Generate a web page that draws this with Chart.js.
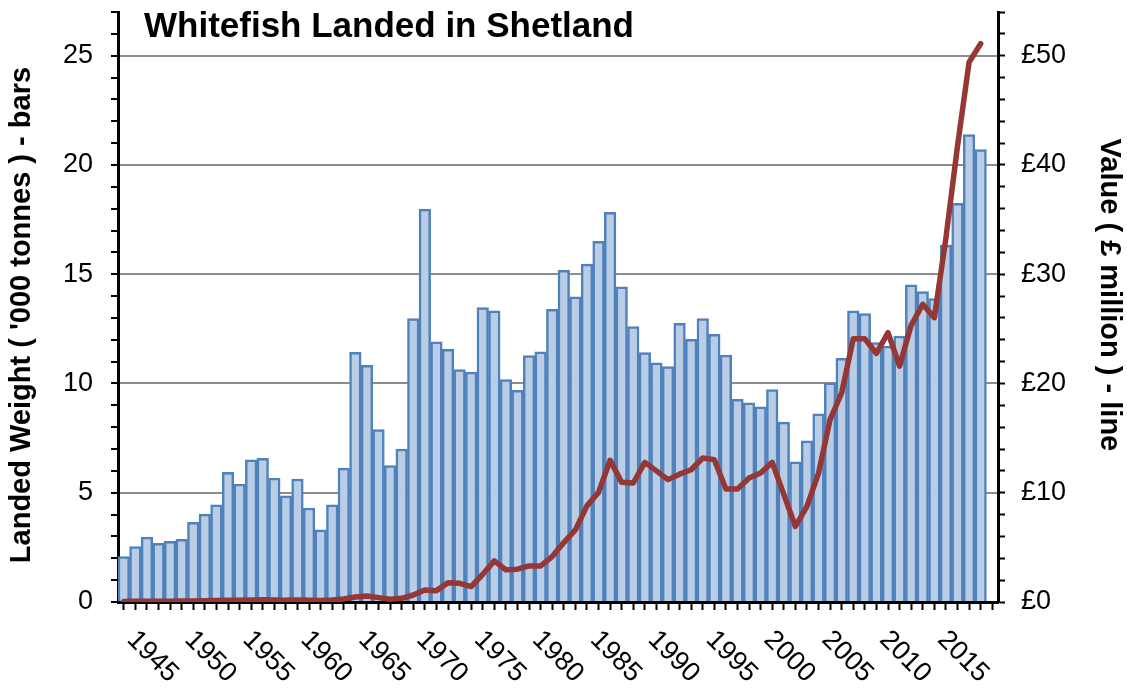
<!DOCTYPE html>
<html>
<head>
<meta charset="utf-8">
<title>Whitefish Landed in Shetland</title>
<script src="https://cdn.jsdelivr.net/npm/chart.js@4"></script>
<style>
  html, body { margin: 0; padding: 0; background: #fff; }
  #wrap { width: 1127px; height: 688px; position: relative; }
</style>
</head>
<body>
<div id="wrap"><canvas id="fishChart"></canvas></div>
<script>
// Years (one bar per year)
const years = [
    1945, 1946, 1947, 1948, 1949, 1950, 1951, 1952, 1953, 1954,
    1955, 1956, 1957, 1958, 1959, 1960, 1961, 1962, 1963, 1964,
    1965, 1966, 1967, 1968, 1969, 1970, 1971, 1972, 1973, 1974,
    1975, 1976, 1977, 1978, 1979, 1980, 1981, 1982, 1983, 1984,
    1985, 1986, 1987, 1988, 1989, 1990, 1991, 1992, 1993, 1994,
    1995, 1996, 1997, 1998, 1999, 2000, 2001, 2002, 2003, 2004,
    2005, 2006, 2007, 2008, 2009, 2010, 2011, 2012, 2013, 2014,
    2015, 2016, 2017, 2018, 2019
];

// Landed weight, '000 tonnes (bars, left axis)
const landedWeight = [
    2.08, 2.54, 2.97, 2.69, 2.78, 2.87, 3.65, 4.02, 4.45, 5.93,
    5.40, 6.51, 6.57, 5.67, 4.86, 5.63, 4.30, 3.30, 4.45, 6.13,
    11.42, 10.83, 7.89, 6.24, 7.00, 12.97, 17.98, 11.91, 11.56, 10.64,
    10.52, 13.47, 13.32, 10.18, 9.69, 11.28, 11.45, 13.39, 15.18, 13.97,
    15.46, 16.50, 17.83, 14.42, 12.60, 11.41, 10.95, 10.77, 12.75, 12.02,
    12.97, 12.25, 11.30, 9.27, 9.11, 8.93, 9.72, 8.23, 6.42, 7.38,
    8.61, 10.03, 11.15, 13.32, 13.20, 11.87, 11.71, 12.17, 14.51, 14.21,
    13.89, 16.33, 18.24, 21.39, 20.70
];

// Value, £ million (line, right axis)
const landedValue = [
    0.05, 0.06, 0.07, 0.07, 0.08, 0.09, 0.10, 0.11, 0.13, 0.16,
    0.16, 0.19, 0.20, 0.18, 0.17, 0.19, 0.16, 0.14, 0.19, 0.28,
    0.45, 0.55, 0.40, 0.25, 0.34, 0.64, 1.10, 1.04, 1.77, 1.71,
    1.41, 2.54, 3.76, 2.94, 3.00, 3.30, 3.30, 4.16, 5.44, 6.60,
    8.80, 10.03, 12.97, 10.95, 10.89, 12.78, 12.00, 11.20, 11.70, 12.10,
    13.18, 13.03, 10.34, 10.34, 11.35, 11.80, 12.78, 9.85, 6.91, 8.75,
    11.80, 16.70, 19.15, 24.10, 24.10, 22.75, 24.65, 21.59, 25.32, 27.25,
    26.03, 33.30, 41.70, 49.40, 51.10
];

// Excel leaves one empty category after the last year
const xLabels = years.concat(['']);

const chartTitle = 'Whitefish Landed in Shetland';
const fontFamily = "'Liberation Sans', Arial, sans-serif";

Chart.defaults.font.family = fontFamily;
Chart.defaults.color = '#000';

// Title inside the plot and the slanted year labels (Chart.js only slants the other way)
const overlayText = {
    id: 'overlayText',
    afterDraw(chart) {
        const ctx = chart.ctx;
        const area = chart.chartArea;
        const xScale = chart.scales.x;
        ctx.save();
        ctx.fillStyle = '#000';
        ctx.textAlign = 'left';
        ctx.font = 'bold 35px ' + fontFamily;
        ctx.textBaseline = 'alphabetic';
        ctx.fillText(chartTitle, area.left + 26, 37);

        ctx.font = '27px ' + fontFamily;
        ctx.textBaseline = 'top';
        years.forEach((yr, i) => {
            if (yr % 5 !== 0) return;
            const x = xScale.getPixelForValue(i);
            ctx.save();
            ctx.translate(x + 17, area.bottom + 24);
            ctx.rotate(Math.PI / 4);
            ctx.fillText(String(yr), 0, 0);
            ctx.restore();
        });
        ctx.restore();
    }
};

const ctx = document.getElementById('fishChart').getContext('2d');
const fishChart = new Chart(ctx, {
    data: {
        labels: xLabels,
        datasets: [{
            type: 'line',
            label: 'Value',
            data: landedValue,
            yAxisID: 'y2',
            borderColor: '#953735',
            borderWidth: 5.5,
            pointRadius: 0,
            tension: 0,
            borderJoinStyle: 'round',
            borderCapStyle: 'round',
            order: 0
        }, {
            type: 'bar',
            label: 'Landed Weight',
            data: landedWeight,
            yAxisID: 'y',
            backgroundColor: '#B9CDE5',
            borderColor: '#4F81BD',
            borderWidth: 2.5,
            barPercentage: 1,
            categoryPercentage: 1,
            order: 1
        }]
    },
    options: {
        responsive: true,
        maintainAspectRatio: false,
        animation: false,
        layout: { padding: { top: 12 } },
        plugins: {
            legend: { display: false },
            tooltip: { enabled: false }
        },
        scales: {
            x: {
                offset: true,
                afterFit(scale) {
                    scale.height = 86;
                    scale.paddingLeft = 0;
                    scale.paddingRight = 0;
                },
                border: { color: '#000', width: 3 },
                grid: {
                    offset: false,
                    drawOnChartArea: false,
                    tickColor: '#000',
                    tickWidth: 2,
                    tickLength: 8
                },
                ticks: { display: false, autoSkip: false }
            },
            y: {
                position: 'left',
                min: 0,
                max: 27,
                afterFit(scale) {
                    scale.width = 118;
                    scale.paddingTop = 0;
                    scale.paddingBottom = 0;
                },
                border: { color: '#000', width: 3 },
                grid: {
                    color: c => (c.tick && c.tick.value > 0 && c.tick.value % 5 === 0) ? '#8C8C8C' : 'rgba(0,0,0,0)',
                    lineWidth: 2,
                    tickColor: '#000',
                    tickWidth: 2,
                    tickLength: 7
                },
                ticks: {
                    stepSize: 1,
                    autoSkip: false,
                    padding: 18,
                    color: '#000',
                    font: { size: 27 },
                    callback: v => (v % 5 === 0 ? v : '')
                },
                title: {
                    display: true,
                    // trailing spaces nudge the centred title down a little, as in the original
                    text: "Landed Weight ( '000 tonnes ) - bars  ",
                    color: '#000',
                    font: { size: 29, weight: 'bold' },
                    padding: { top: 5, bottom: 0 }
                }
            },
            y2: {
                position: 'right',
                min: 0,
                max: 54,
                afterFit(scale) {
                    scale.width = 129;
                    scale.paddingTop = 0;
                    scale.paddingBottom = 0;
                },
                border: { color: '#000', width: 3 },
                grid: {
                    drawOnChartArea: false,
                    tickColor: '#000',
                    tickWidth: 2,
                    tickLength: 7
                },
                ticks: {
                    stepSize: 2,
                    autoSkip: false,
                    padding: 16,
                    color: '#000',
                    font: { size: 27 },
                    callback: v => (v % 10 === 0 ? '£' + v : '')
                },
                title: {
                    display: true,
                    // trailing spaces nudge this one up
                    text: 'Value ( £ million ) - line   ',
                    color: '#000',
                    font: { size: 29, weight: 'bold' },
                    padding: { top: 1, bottom: 0 }
                }
            }
        }
    },
    plugins: [overlayText]
});
</script>
</body>
</html>
